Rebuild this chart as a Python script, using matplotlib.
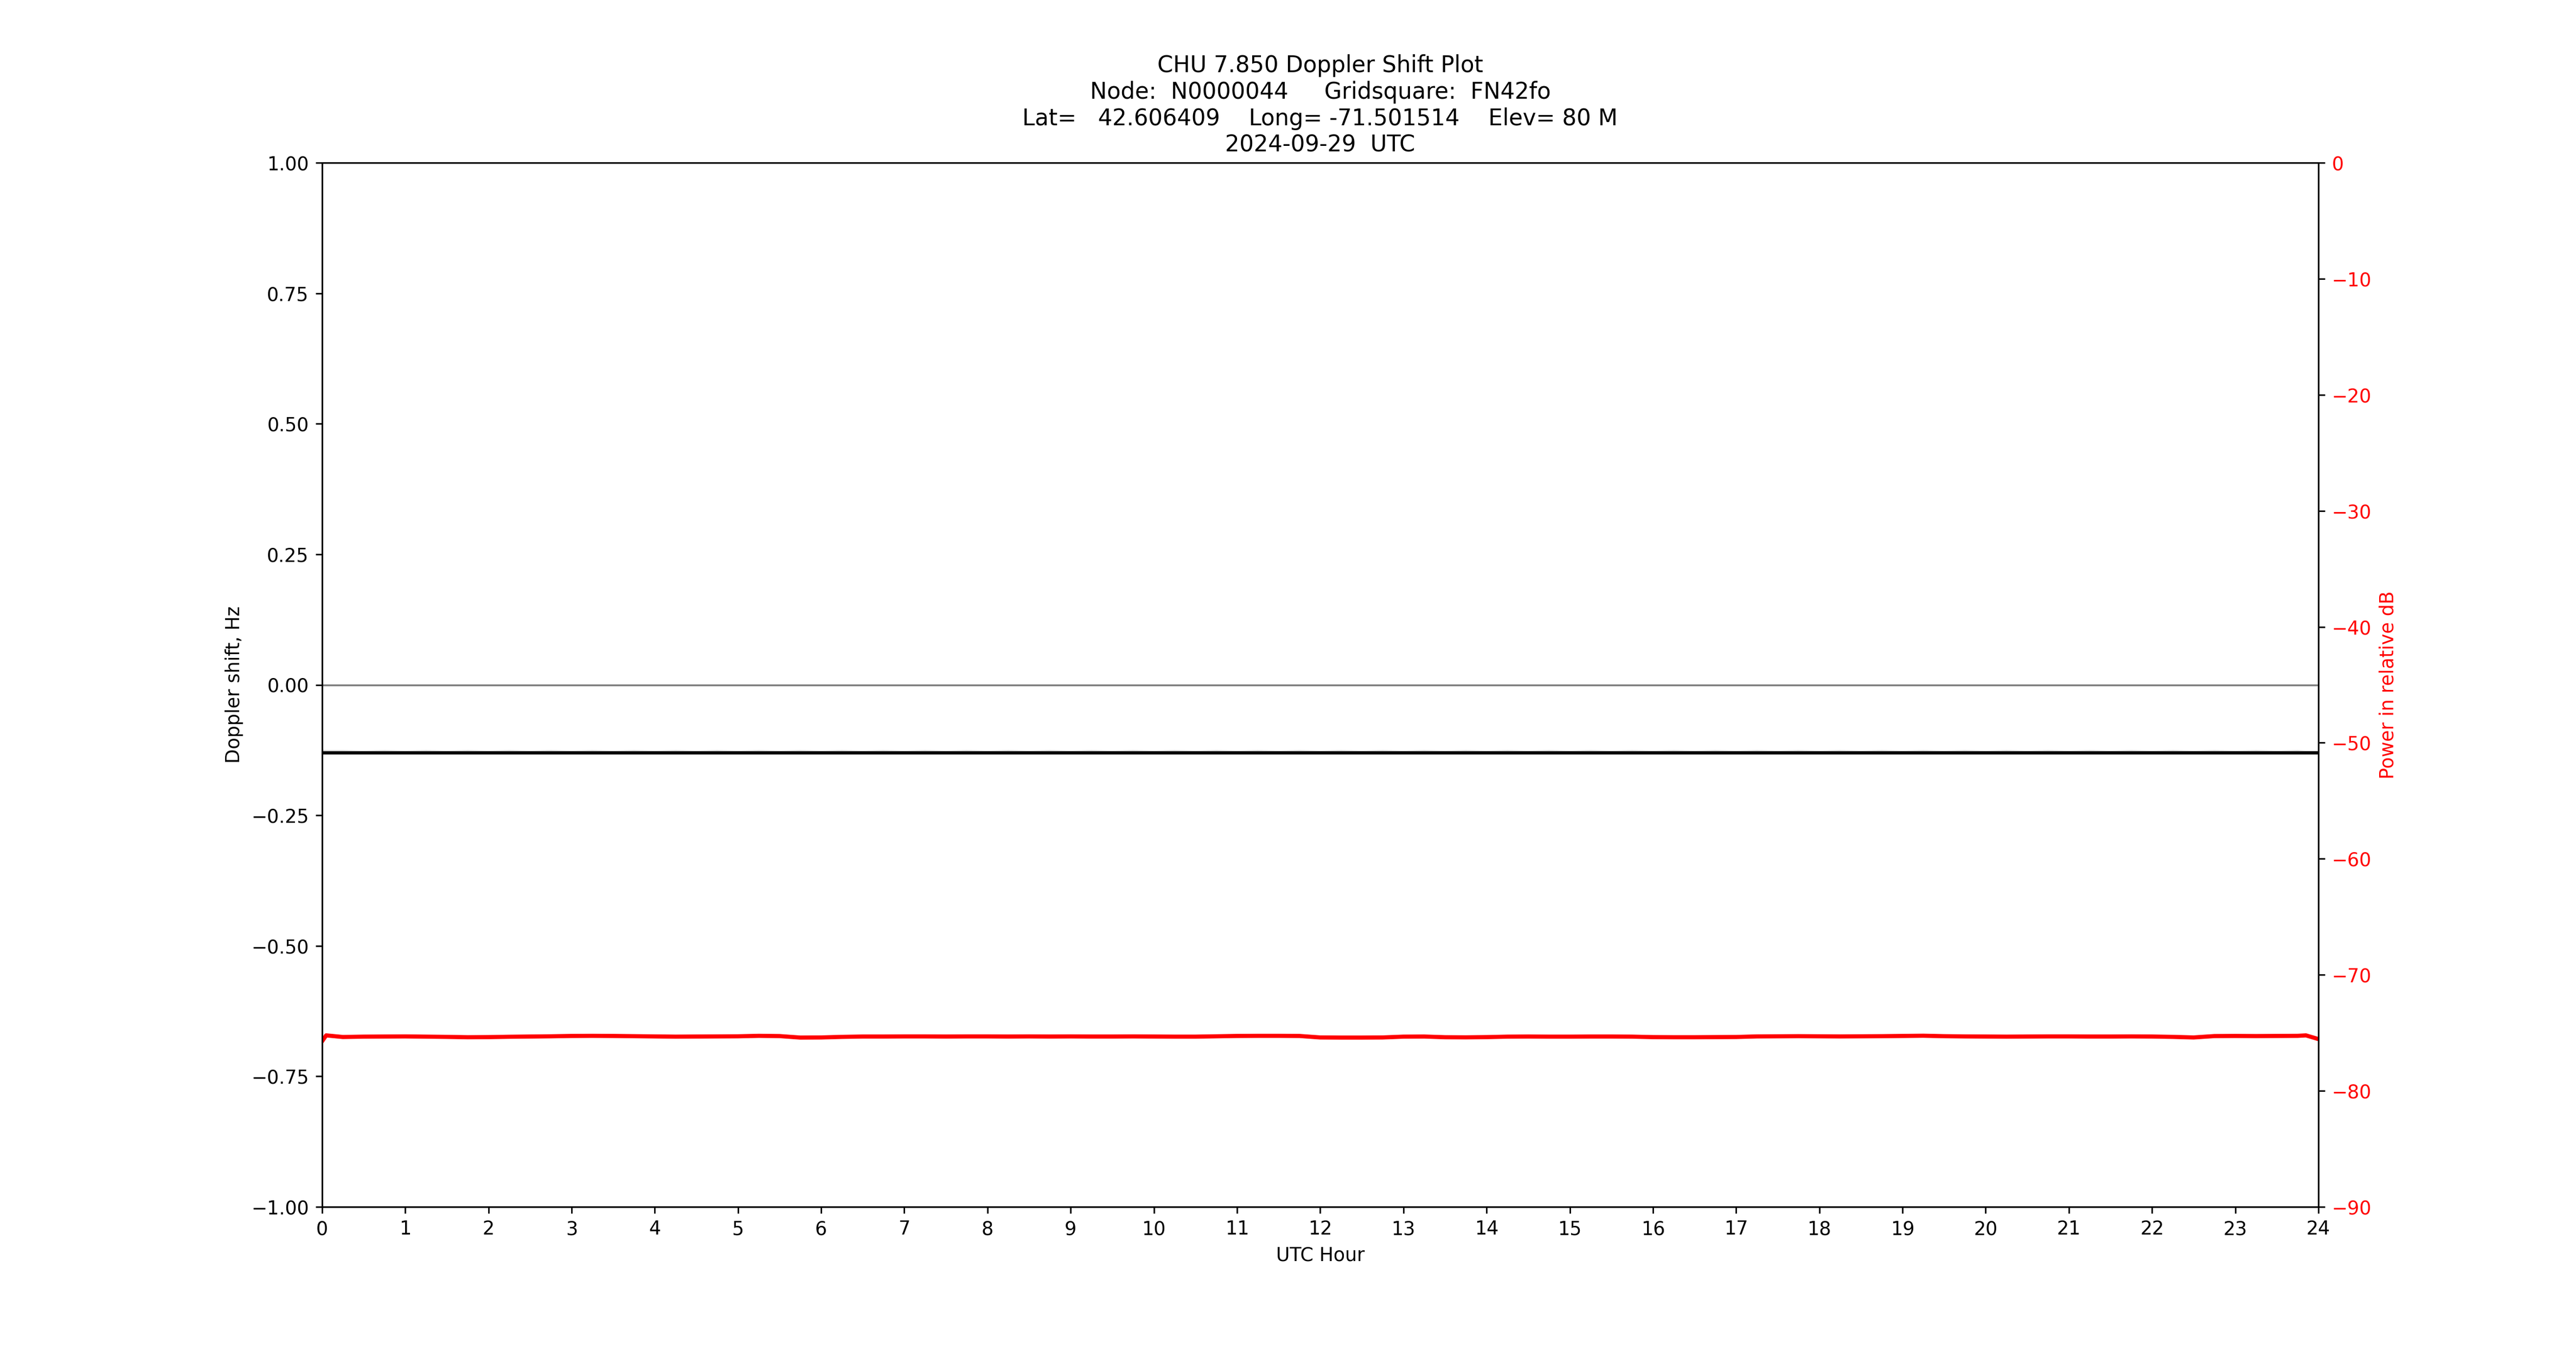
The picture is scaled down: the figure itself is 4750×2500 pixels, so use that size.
import numpy as np
import matplotlib
matplotlib.use("Agg")
import matplotlib.pyplot as plt

# time grid in UTC hours (quarter-hour readings)
hours = [0.0, 0.05, 0.25, 0.5, 0.75, 1.0, 1.25, 1.5, 1.75, 2.0, 2.25, 2.5, 2.75,
         3.0, 3.25, 3.5, 3.75, 4.0, 4.25, 4.5, 4.75, 5.0, 5.25, 5.5, 5.75,
         6.0, 6.25, 6.5, 6.75, 7.0, 7.25, 7.5, 7.75, 8.0, 8.25, 8.5, 8.75,
         9.0, 9.25, 9.5, 9.75, 10.0, 10.25, 10.5, 10.75, 11.0, 11.25, 11.5, 11.75,
         12.0, 12.25, 12.5, 12.75, 13.0, 13.25, 13.5, 13.75, 14.0, 14.25, 14.5, 14.75,
         15.0, 15.25, 15.5, 15.75, 16.0, 16.25, 16.5, 16.75, 17.0, 17.25, 17.5, 17.75,
         18.0, 18.25, 18.5, 18.75, 19.0, 19.25, 19.5, 19.75, 20.0, 20.25, 20.5, 20.75,
         21.0, 21.25, 21.5, 21.75, 22.0, 22.25, 22.5, 22.75, 23.0, 23.25, 23.5, 23.75,
         23.85, 24.0]

# Doppler shift, Hz (black) and raw trace (light grey)
doppler = [-0.130] * 99
doppler_raw = [-0.127, -0.128, -0.128, -0.129, -0.128, -0.129, -0.128, -0.129, -0.128, -0.129,
               -0.128, -0.129, -0.128, -0.129, -0.128, -0.129, -0.128, -0.129, -0.128, -0.129,
               -0.128, -0.129, -0.128, -0.129, -0.128, -0.129, -0.128, -0.129, -0.128, -0.129,
               -0.128, -0.129, -0.128, -0.129, -0.128, -0.129, -0.128, -0.129, -0.128, -0.129,
               -0.128, -0.129, -0.128, -0.129, -0.128, -0.129, -0.128, -0.129, -0.128, -0.129,
               -0.128, -0.129, -0.128, -0.129, -0.128, -0.129, -0.128, -0.129, -0.128, -0.129,
               -0.128, -0.129, -0.128, -0.129, -0.128, -0.129, -0.128, -0.129, -0.128, -0.129,
               -0.128, -0.129, -0.128, -0.129, -0.128, -0.129, -0.128, -0.129, -0.128, -0.129,
               -0.128, -0.129, -0.128, -0.129, -0.128, -0.129, -0.128, -0.129, -0.128, -0.129,
               -0.128, -0.129, -0.128, -0.129, -0.128, -0.129, -0.128, -0.129, -0.129]

# received power, relative dB (red)
power = [-75.74, -75.22, -75.36, -75.33, -75.32, -75.31, -75.33, -75.35, -75.38, -75.37,
         -75.34, -75.32, -75.30, -75.27, -75.26, -75.27, -75.29, -75.31, -75.33, -75.32,
         -75.31, -75.30, -75.26, -75.28, -75.41, -75.40, -75.35, -75.32, -75.32, -75.31,
         -75.31, -75.32, -75.31, -75.31, -75.32, -75.31, -75.32, -75.31, -75.32, -75.32,
         -75.31, -75.32, -75.33, -75.33, -75.30, -75.27, -75.26, -75.26, -75.27, -75.40,
         -75.41, -75.41, -75.40, -75.33, -75.32, -75.38, -75.39, -75.37, -75.33, -75.32,
         -75.33, -75.33, -75.32, -75.32, -75.33, -75.37, -75.38, -75.38, -75.37, -75.36,
         -75.31, -75.30, -75.29, -75.30, -75.31, -75.30, -75.29, -75.27, -75.25, -75.29,
         -75.31, -75.32, -75.33, -75.32, -75.31, -75.31, -75.32, -75.32, -75.31, -75.32,
         -75.35, -75.40, -75.28, -75.27, -75.28, -75.27, -75.26, -75.22, -75.54]

title = ("CHU 7.850 Doppler Shift Plot\n"
         "Node:  N0000044     Gridsquare:  FN42fo\n"
         "Lat=   42.606409    Long= -71.501514    Elev= 80 M\n"
         "2024-09-29  UTC")

fig = plt.figure(figsize=(19, 10), dpi=250)
ax = fig.add_subplot(111)
ax.plot(hours, doppler_raw, color="lightgray", linewidth=1.5)
ax.plot(hours, doppler, color="black", linewidth=1.7)
ax.axhline(0, color="gray", linewidth=1)
ax.set_xlim(0, 24)
ax.set_ylim(-1, 1)
ax.set_xticks(range(0, 25))
ax.set_xlabel("UTC Hour")
ax.set_ylabel("Doppler shift, Hz")
ax.set_title(title)

ax2 = ax.twinx()
ax2.plot(hours, power, color="red", linewidth=2.2)
ax2.set_ylim(-90, 0)
ax2.set_ylabel("Power in relative dB", color="red")
ax2.tick_params(axis="y", labelcolor="red")

fig.savefig("out.png", dpi=250)
